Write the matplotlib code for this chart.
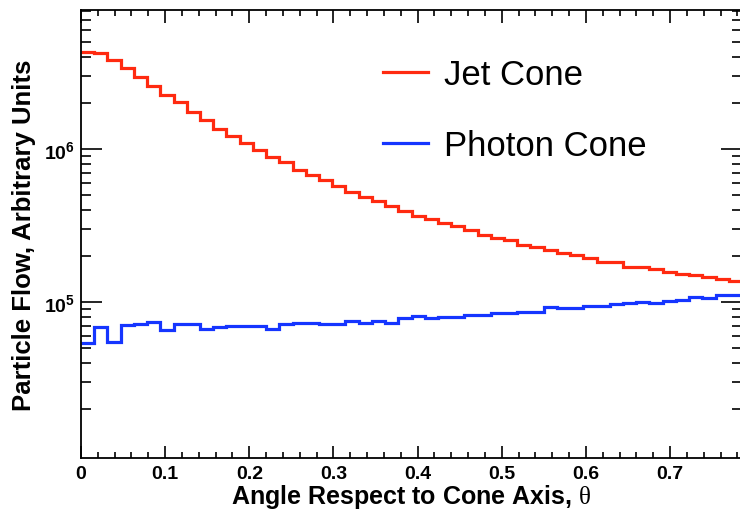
import numpy as np
import matplotlib
matplotlib.use('Agg')
import matplotlib.pyplot as plt
from matplotlib.ticker import FixedLocator, NullFormatter, MultipleLocator

# histogram contents (50 bins from 0 to pi/4)
jet_cone = [4.28e6, 4.22e6, 3.79e6, 3.38e6, 2.96e6, 2.59e6, 2.26e6, 2.02e6, 1.76e6, 1.55e6,
            1.36e6, 1.22e6, 1.10e6, 9.9e5, 8.87e5, 8.22e5, 7.32e5, 6.79e5, 6.30e5, 5.75e5,
            5.26e5, 4.90e5, 4.57e5, 4.26e5, 3.97e5, 3.68e5, 3.49e5, 3.30e5, 3.15e5, 2.94e5,
            2.74e5, 2.63e5, 2.53e5, 2.37e5, 2.28e5, 2.19e5, 2.09e5, 2.04e5, 1.93e5, 1.83e5,
            1.83e5, 1.71e5, 1.71e5, 1.64e5, 1.58e5, 1.53e5, 1.50e5, 1.45e5, 1.42e5, 1.37e5]
photon_cone = [5.40e4, 6.87e4, 5.52e4, 7.11e4, 7.25e4, 7.47e4, 6.59e4, 7.21e4, 7.21e4, 6.72e4,
               6.87e4, 7.00e4, 7.00e4, 7.00e4, 6.72e4, 7.21e4, 7.32e4, 7.32e4, 7.25e4, 7.25e4,
               7.58e4, 7.32e4, 7.58e4, 7.32e4, 7.86e4, 8.17e4, 7.89e4, 8.01e4, 8.01e4, 8.20e4,
               8.20e4, 8.51e4, 8.51e4, 8.68e4, 8.68e4, 9.31e4, 9.11e4, 9.11e4, 9.46e4, 9.46e4,
               9.75e4, 9.85e4, 1.005e5, 9.85e4, 1.02e5, 1.035e5, 1.08e5, 1.06e5, 1.11e5, 1.11e5]
edges = np.linspace(0, np.pi / 4, len(jet_cone) + 1)

x_ticks = [0, 0.1, 0.2, 0.3, 0.4, 0.5, 0.6, 0.7]
x_tick_labels = ['0', '0.1', '0.2', '0.3', '0.4', '0.5', '0.6', '0.7']
y_ticks = [1e5, 1e6]
y_tick_labels = [r'$\mathbf{10^{5}}$', r'$\mathbf{10^{6}}$']

plt.rcParams['font.family'] = ['Liberation Sans', 'DejaVu Sans']
plt.rcParams['mathtext.fontset'] = 'custom'
plt.rcParams['mathtext.bf'] = 'Liberation Sans:bold'
plt.rcParams['mathtext.rm'] = 'Liberation Serif'

fig = plt.figure(figsize=(7.4, 5.1), dpi=100)
ax = fig.add_axes([81 / 740, 1 - 459 / 510, 661 / 740, 448 / 510])

# baseline=None -> no vertical edges down to the axis
ax.stairs(jet_cone, edges, color='#ff2a10', lw=2.3, baseline=None, label='Jet Cone')
ax.stairs(photon_cone, edges, color='#1535ff', lw=2.3, baseline=None, label='Photon Cone')

ax.set_yscale('log')
ax.set_xlim(0, np.pi / 4)
ax.set_ylim(9.6e3, 8.1e6)

ax.xaxis.set_major_locator(FixedLocator(x_ticks))
ax.xaxis.set_minor_locator(MultipleLocator(0.02))
ax.set_xticklabels(x_tick_labels, fontweight='bold', fontsize=14)

minors = [m * 10.0 ** e for e in (4, 5, 6) for m in range(2, 10)]
ax.yaxis.set_major_locator(FixedLocator(y_ticks))
ax.yaxis.set_minor_locator(FixedLocator(minors))
ax.yaxis.set_minor_formatter(NullFormatter())
ax.set_yticklabels(y_tick_labels, fontsize=14)

ax.tick_params(which='both', direction='in', top=True, right=True, width=1.2, colors='black')
ax.tick_params(axis='x', which='major', length=9, pad=5)
ax.tick_params(axis='x', which='minor', length=4.5)
ax.tick_params(axis='y', which='major', length=15, pad=4)
ax.tick_params(axis='y', which='minor', length=7.5)
for s in ax.spines.values():
    s.set_linewidth(1.3)

ax.set_xlabel('Angle Respect to Cone Axis, ' + r'$\mathrm{\theta}$', fontsize=18, fontweight='bold', labelpad=0)
ax.set_ylabel('Particle Flow, Arbitrary Units', fontsize=18.5, fontweight='bold', labelpad=6)

ax.legend(loc='center left', bbox_to_anchor=(0.457, 0.777), frameon=False, fontsize=25,
          handlelength=1.3, handletextpad=0.45, labelspacing=1.1, borderpad=0, borderaxespad=0)

fig.savefig('out.png', dpi=100)
